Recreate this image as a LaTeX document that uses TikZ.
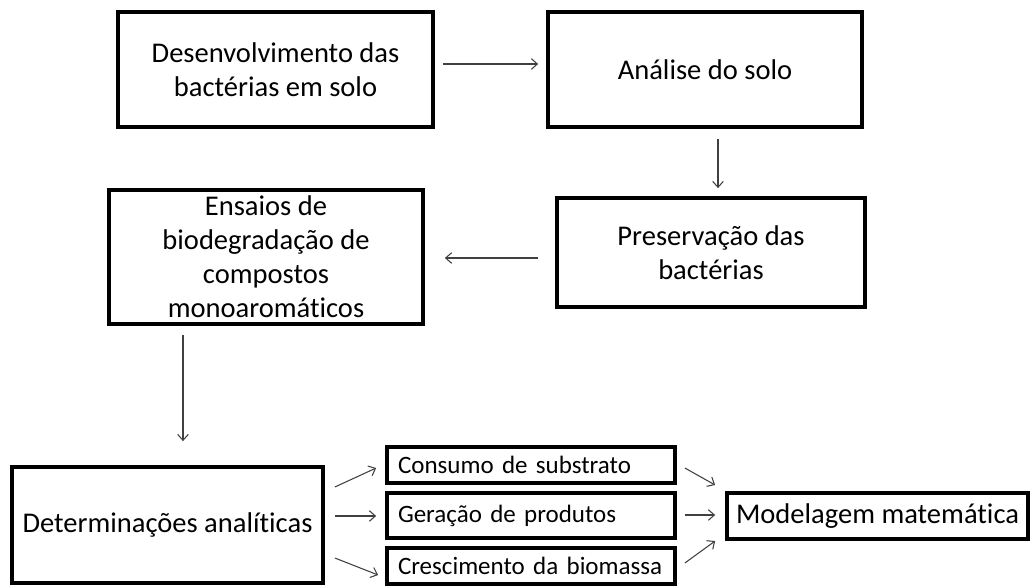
\documentclass[tikz,border=0pt]{standalone}
\usepackage{fontspec}
\setmainfont{Carlito}[Ligatures=NoCommon]
\usetikzlibrary{arrows.meta}

\begin{document}
\begin{tikzpicture}[x=0.75pt,y=-0.75pt,
	caixa/.style={draw,line width=2.8pt,align=center,inner sep=0pt,font=\fontsize{21.4}{25.5}\selectfont},
	caixinha/.style={draw,line width=2.8pt,align=left,inner xsep=8.25pt,inner ysep=0pt,text width=199.5pt,font=\fontsize{18.75}{22}\selectfont},
	seta/.style={-{Straight Barb[length=4.5pt,width=8pt]},line width=0.8pt,color=black!75}]
	\useasboundingbox (0,0) rectangle (1031,586);
	\node[caixa,minimum width=236.25pt,minimum height=86.25pt] (desenv) at (275.5,69.5) {Desenvolvimento das\\bactérias em solo};
	\node[caixa,minimum width=235.5pt,minimum height=86.25pt] (analise) at (705,69.5) {Análise do solo};
	\node[caixa,minimum width=231pt,minimum height=81.75pt] (preserv) at (711,252.5) {Preservação das\\bactérias};
	\node[caixa,minimum width=235.5pt,minimum height=100.5pt] (ensaios) at (266,257) {Ensaios de\\biodegradação de\\compostos\\monoaromáticos};
	\node[caixa,minimum width=233.25pt,minimum height=87pt] (determ) at (167.5,525) {Determinações analíticas};
	\node[caixinha,minimum height=27pt] (consumo) at (531,465) {Consumo de substrato};
	\node[caixinha,minimum height=33.75pt] (geracao) at (531,515.5) {Geração de produtos};
	\node[caixinha,minimum height=27pt] (cresc) at (531,566) {Crescimento da biomassa};
	\node[caixa,minimum width=225.75pt,minimum height=34.5pt] (modelo) at (877.5,516) {Modelagem matemática};
	\draw[seta] ([shift={(8,-5.5)}]desenv.east) -- ([shift={(-8,-5.5)}]analise.west);
	\draw[seta] ([shift={(13,10)}]analise.south) -- ([shift={(7,-8)}]preserv.north);
	\draw[seta] ([shift={(-17,5.5)}]preserv.west) -- ([shift={(20,1)}]ensaios.east);
	\draw[seta] ([shift={(-83,9)}]ensaios.south) -- ([shift={(15.5,-24)}]determ.north);
	\draw[seta] ([shift={(10,-38)}]determ.east) -- ([shift={(-9,3)}]consumo.west);
	\draw[seta] ([shift={(10,-9)}]determ.east) -- ([shift={(-9,0.5)}]geracao.west);
	\draw[seta] ([shift={(10,33)}]determ.east) -- ([shift={(-7,9)}]cresc.west);
	\draw[seta] ([shift={(8,3)}]consumo.east) -- ([shift={(-10,-31)}]modelo.west);
	\draw[seta] ([shift={(8,-0.5)}]geracao.east) -- ([shift={(-10,-1)}]modelo.west);
	\draw[seta] ([shift={(8,-3)}]cresc.east) -- ([shift={(-10,25)}]modelo.west);
\end{tikzpicture}
\end{document}
